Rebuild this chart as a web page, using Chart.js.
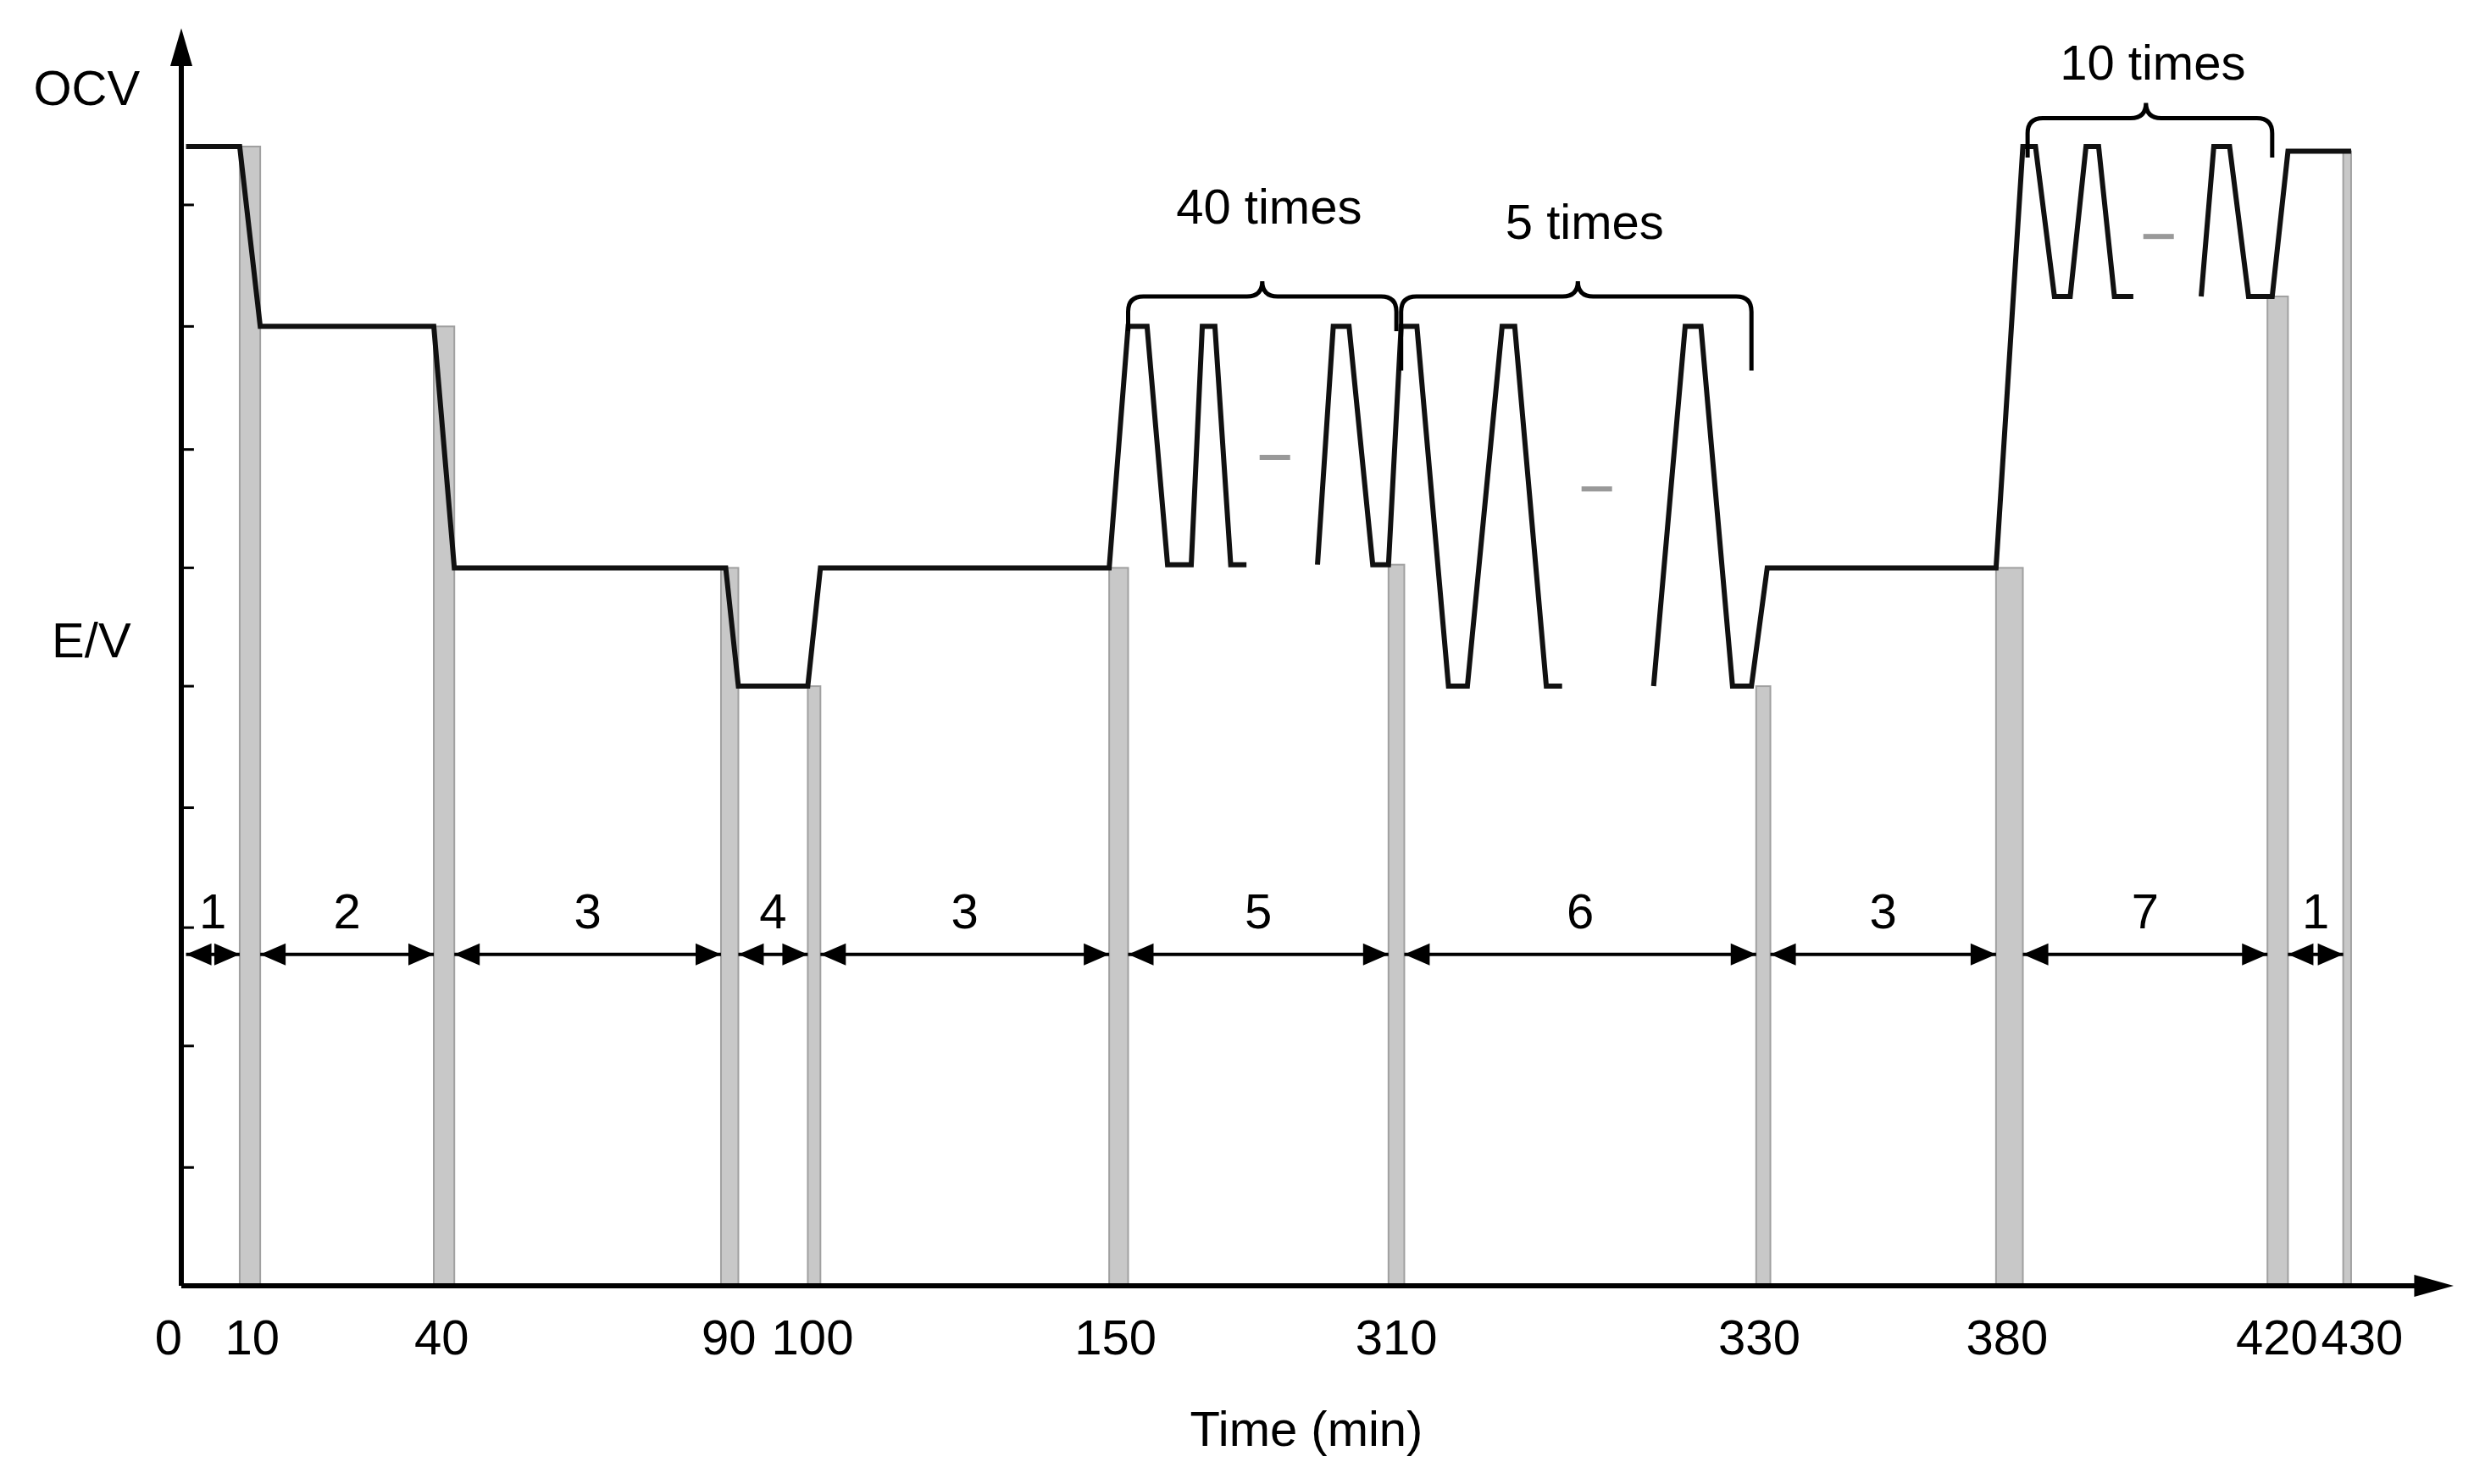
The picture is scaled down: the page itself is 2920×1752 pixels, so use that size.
<!DOCTYPE html>
<html><head><meta charset="utf-8">
<script src="https://cdn.jsdelivr.net/npm/chart.js@4"></script>
<style>html,body{margin:0;background:#fff}#w{width:2920px;height:1752px}</style>
</head><body><div id="w"><canvas id="c"></canvas></div>
<script>
// x in schematic position units, y in schematic level units (top = small)
const waveX=[118,152,165,275,288,460,468,512,520,703,715,727,740,755,762,770,780,790,790,835,845,855,870,880,888,898,918,930,952,960,980,990,990,1048,1068,1078,1098,1110,1120,1265,1282,1290,1302,1312,1322,1330,1340,1352,1352,1395,1403,1413,1425,1440,1450,1490];
const waveY=[93,93,207,207,360,360,435,435,360,360,207,207,358,358,207,207,358,358,null,358,207,207,358,358,207,207,435,435,207,207,435,435,null,435,207,207,435,435,360,360,93,93,188,188,93,93,188,188,null,188,93,93,188,188,96,96];
const tickPos=[115,160,280,462,515,707,885,1115,1272,1443,1497];
const tickLabels=['0','10','40','90','100','150','310','330','380','420','430'];
const bandPos=[[152,165,93],[275,288,207],[457,468,360],[512,520,435],[703,715,360],[880,890,358],[1113,1122,435],[1265,1282,360],[1437,1450,188],[1485,1490,96]];
const segFrom=[118,165,288,468,520,715,890,1122,1282,1450];
const segTo=[152,275,457,512,703,880,1113,1265,1437,1485];
const segLabels=['1','2','3','4','3','5','6','3','7','1'];
const braces=[[715,885,188,'40 times',800,133,210],[888,1110,188,'5 times',1000,143,235],[1285,1440,75,'10 times',1360,42,100]];
const yTicks=[130,207,285,360,435,512,588,663,740];

const pts=waveX.map((x,i)=>({x,y:waveY[i]}));
const deco={id:'deco',
 beforeDatasetsDraw(ch){const c=ch.ctx,X=ch.scales.x,Y=ch.scales.y;
  c.save();c.fillStyle='#c8c8c8';c.strokeStyle='#a0a0a0';c.lineWidth=2;
  bandPos.forEach(b=>{const x1=X.getPixelForValue(b[0]),x2=X.getPixelForValue(b[1]),y1=Y.getPixelForValue(b[2]),y2=Y.getPixelForValue(815);
   c.fillRect(x1,y1,x2-x1,y2-y1);c.strokeRect(x1,y1,x2-x1,y2-y1);});
  c.restore();},
 afterDatasetsDraw(ch){const c=ch.ctx,X=ch.scales.x,Y=ch.scales.y;const px=v=>X.getPixelForValue(v),py=v=>Y.getPixelForValue(v);
  c.save();c.strokeStyle='#000';c.fillStyle='#000';c.lineWidth=6;
  c.beginPath();c.moveTo(px(115),py(815));c.lineTo(px(115),py(30));c.moveTo(px(115),py(815));c.lineTo(px(1540),py(815));c.stroke();
  c.beginPath();c.moveTo(px(115),py(18));c.lineTo(px(108),py(42));c.lineTo(px(122),py(42));c.fill();
  c.beginPath();c.moveTo(px(1555),py(815));c.lineTo(px(1530),py(808));c.lineTo(px(1530),py(822));c.fill();
  c.lineWidth=3;yTicks.forEach(t=>{c.beginPath();c.moveTo(px(115),py(t));c.lineTo(px(123),py(t));c.stroke();});
  c.font='58px "Liberation Sans", Arial';c.textAlign='center';c.textBaseline='middle';
  tickLabels.forEach((l,i)=>c.fillText(l,px(tickPos[i])+(i==0?-15:0),py(850)));
  c.fillText('Time (min)',px(828),py(908));
  c.fillText('OCV',px(55),py(58));c.fillText('E/V',px(58),py(408));
  c.lineWidth=4;
  segFrom.forEach((a,i)=>{const b=segTo[i],y=py(605),xa=px(a),xb=px(b);
   c.beginPath();c.moveTo(xa,y);c.lineTo(xb,y);c.stroke();
   c.beginPath();c.moveTo(xa,y);c.lineTo(xa+30,y-13);c.lineTo(xa+30,y+13);c.fill();
   c.beginPath();c.moveTo(xb,y);c.lineTo(xb-30,y-13);c.lineTo(xb-30,y+13);c.fill();
   c.fillText(segLabels[i],(xa+xb)/2,py(580));});
  c.lineWidth=5;
  braces.forEach(b=>{const x1=px(b[0]),x2=px(b[1]),y=py(b[2]),m=px(b[4]),yb=py(b[6]),r=18;
   c.beginPath();c.moveTo(x1,yb);c.lineTo(x1,y+r);c.quadraticCurveTo(x1,y,x1+r,y);c.lineTo(m-r,y);c.quadraticCurveTo(m,y,m,y-r);
   c.quadraticCurveTo(m,y,m+r,y);c.lineTo(x2-r,y);c.quadraticCurveTo(x2,y,x2,y+r);c.lineTo(x2,yb);c.stroke();
   c.fillText(b[3],m+8,py(b[5]));});
  c.fillStyle='#999';[[808,290],[1012,310],[1368,150]].forEach(d=>c.fillRect(px(d[0])-18,py(d[1])-3,36,6));
  c.restore();}};
new Chart(document.getElementById('c'),{type:'line',
 data:{datasets:[{data:pts,borderColor:'#111',borderWidth:6,pointRadius:0,tension:0,spanGaps:false}]},
 options:{responsive:true,maintainAspectRatio:false,animation:false,
  layout:{padding:{left:214,right:24,top:37,bottom:234}},
  plugins:{legend:{display:false},tooltip:{enabled:false}},
  scales:{x:{type:'linear',min:115,max:1555,display:false},y:{type:'linear',min:20,max:815,reverse:true,display:false}}},
 plugins:[deco]});
</script></body></html>
